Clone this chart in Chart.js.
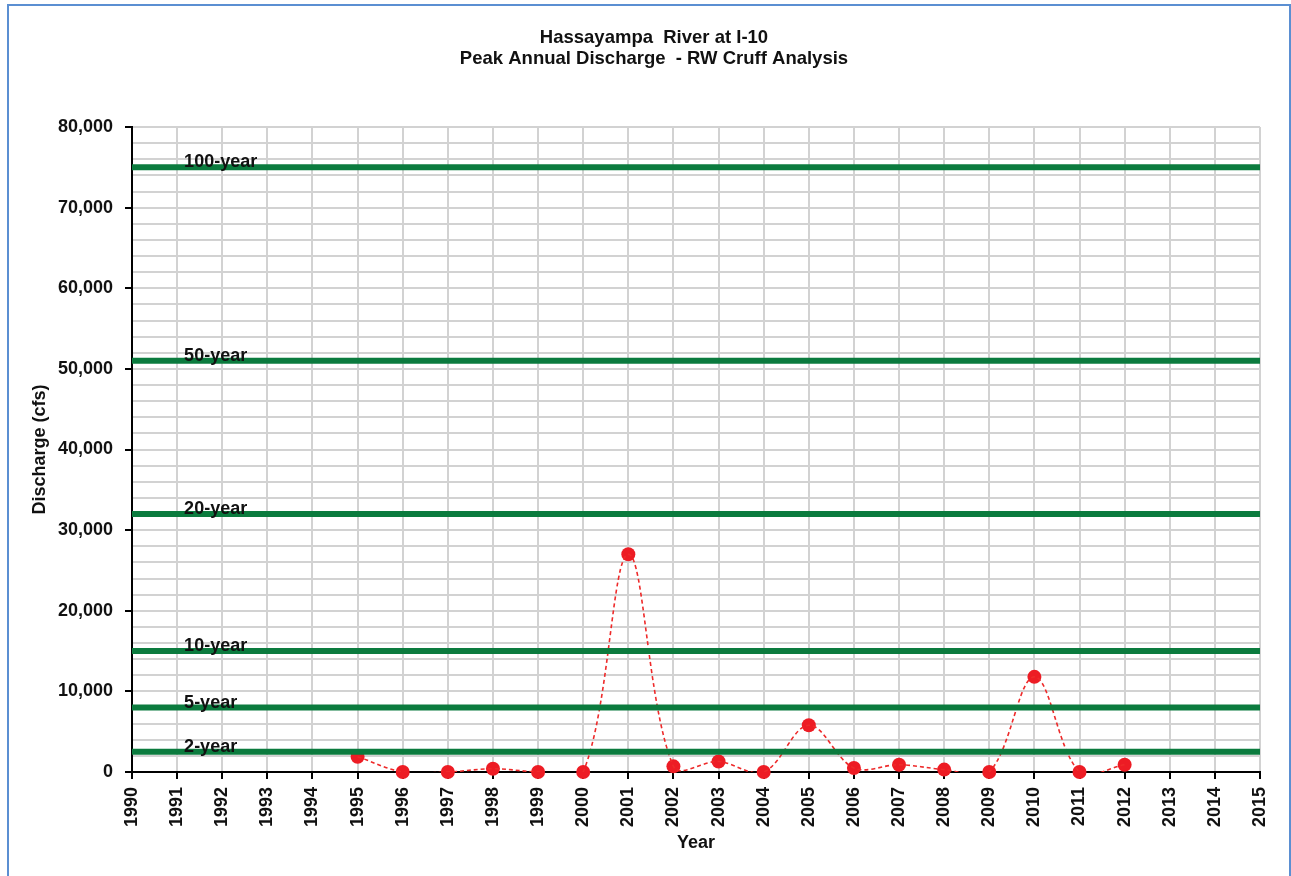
<!DOCTYPE html>
<html>
<head>
<meta charset="utf-8">
<title>Hassayampa River at I-10</title>
<script src="https://cdn.jsdelivr.net/npm/chart.js@4.4.1/dist/chart.umd.min.js"></script>
<style>
    html, body { margin: 0; padding: 0; background: #fff; }
    #wrap { position: relative; width: 1291px; height: 876px; overflow: hidden; }
    #frame {
        position: absolute; left: 7px; top: 4px; width: 1284px; height: 900px;
        border: 2px solid #5b8fd2; box-sizing: border-box; pointer-events: none;
    }
    canvas { position: absolute; left: 0; top: 0; }
</style>
</head>
<body>
<div id="wrap">
    <canvas id="peakChart" width="1291" height="876"></canvas>
    <div id="frame"></div>
</div>
<script>
// Datos: caudal pico anual (cfs)
const years = [1995, 1996, 1997, 1998, 1999, 2000, 2001, 2002, 2003, 2004, 2005, 2006, 2007, 2008, 2009, 2010, 2011, 2012];
const peakDischarge = [1900, 0, 0, 400, 0, 0, 27000, 700, 1300, 0, 5800, 500, 900, 300, 0, 11800, 0, 900];

// Periodos de retorno (análisis RW Cruff)
const returnLabels = ['100-year', '50-year', '20-year', '10-year', '5-year', '2-year'];
const returnDischarge = [75000, 51000, 32000, 15000, 8000, 2500];

// Rango de ejes
const yearRange = [1990, 2015];
const dischargeRange = [0, 80000];

const titleLines = ['Hassayampa  River at I-10', 'Peak Annual Discharge  - RW Cruff Analysis'];
const FONT = 'Arial, "Liberation Sans", sans-serif';

const peakPoints = years.map((y, i) => ({ x: y, y: peakDischarge[i] }));

// Líneas horizontales de periodo de retorno
const returnDatasets = returnDischarge.map((q, i) => ({
    label: returnLabels[i],
    data: [{ x: yearRange[0], y: q }, { x: yearRange[1], y: q }],
    borderColor: '#0b7b3e',
    borderWidth: 6,
    pointRadius: 0,
    tension: 0,
    clip: false
}));

// Título (centrado como en el original, no sobre el área del gráfico)
const titlePlugin = {
    id: 'sheetTitle',
    afterDraw(chart) {
        const ctx = chart.ctx;
        ctx.save();
        ctx.font = 'bold 18.5px ' + FONT;
        ctx.fillStyle = '#111';
        ctx.textAlign = 'center';
        ctx.textBaseline = 'middle';
        titleLines.forEach((t, i) => ctx.fillText(t, 654, 38 + i * 21));
        ctx.restore();
    }
};

// Etiquetas sobre las líneas verdes
const returnLabelPlugin = {
    id: 'returnLabels',
    afterDatasetsDraw(chart) {
        const ctx = chart.ctx;
        const xs = chart.scales.x;
        const ys = chart.scales.y;
        ctx.save();
        ctx.font = 'bold 18px ' + FONT;
        ctx.fillStyle = '#111';
        ctx.textAlign = 'left';
        ctx.textBaseline = 'alphabetic';
        returnLabels.forEach((lbl, i) => {
            const x = xs.getPixelForValue(yearRange[0] + 1) + 7;
            const y = ys.getPixelForValue(returnDischarge[i]);
            ctx.fillText(lbl, x, y);
        });
        ctx.restore();
    }
};

const ctx = document.getElementById('peakChart').getContext('2d');
const chart = new Chart(ctx, {
    type: 'line',
    data: {
        datasets: [
            ...returnDatasets,
            {
                label: 'Peak line',
                data: peakPoints,
                borderColor: '#ee2a2a',
                borderWidth: 1.6,
                borderDash: [4, 3],
                pointRadius: 0,
                tension: 0.35,
                capBezierPoints: false
            },
            {
                label: 'Peak Annual Discharge',
                data: peakPoints,
                showLine: false,
                pointRadius: 7,
                pointBackgroundColor: '#ed1c24',
                pointBorderColor: '#ed1c24',
                pointBorderWidth: 0,
                clip: false
            }
        ]
    },
    options: {
        responsive: false,
        animation: false,
        events: [],
        layout: { padding: { left: 0, right: 31, top: 127, bottom: 0 } },
        plugins: {
            legend: { display: false },
            tooltip: { enabled: false },
            title: { display: false }
        },
        scales: {
            x: {
                type: 'linear',
                min: yearRange[0],
                max: yearRange[1],
                afterFit: (s) => { s.height = 104; },
                ticks: {
                    stepSize: 1,
                    autoSkip: false,
                    minRotation: 90,
                    maxRotation: 90,
                    padding: 8,
                    color: '#111',
                    font: { family: FONT, size: 18, weight: 'bold' },
                    callback: (v) => String(v)
                },
                grid: {
                    color: '#d2d2d2',
                    lineWidth: 2,
                    tickColor: '#000',
                    tickLength: 7
                },
                border: { color: '#000', width: 2 },
                title: {
                    display: true,
                    text: 'Year',
                    color: '#111',
                    font: { family: FONT, size: 18, weight: 'bold' },
                    padding: { top: 0, bottom: 22 }
                }
            },
            y: {
                type: 'linear',
                min: dischargeRange[0],
                max: dischargeRange[1],
                afterFit: (s) => { s.width = 132; },
                ticks: {
                    stepSize: 2000,
                    autoSkip: false,
                    padding: 12,
                    color: '#111',
                    font: { family: FONT, size: 18, weight: 'bold' },
                    callback: (v) => (v % 10000 === 0 ? v.toLocaleString('en-US') : '')
                },
                grid: {
                    color: '#d2d2d2',
                    lineWidth: 2,
                    tickLength: 7,
                    tickColor: (c) => (c.tick && c.tick.value % 10000 === 0 ? '#000' : 'rgba(0,0,0,0)')
                },
                border: { color: '#000', width: 2 },
                title: {
                    display: true,
                    text: 'Discharge (cfs)',
                    color: '#111',
                    font: { family: FONT, size: 18, weight: 'bold' },
                    padding: { top: 29, bottom: 0 }
                }
            }
        }
    },
    plugins: [returnLabelPlugin, titlePlugin]
});
</script>
</body>
</html>
